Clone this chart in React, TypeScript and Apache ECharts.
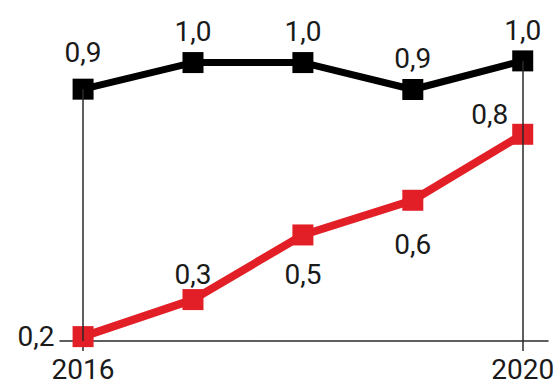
import React, { useEffect, useRef } from "react";
import * as echarts from "echarts";

const years = [2016, 2017, 2018, 2019, 2020];
const blackValues = [0.948, 1.027, 1.027, 0.947, 1.032];
const redValues = [0.213, 0.323, 0.515, 0.618, 0.814];
const axisYears = [2016, 2020];

const yMin = 0.2;
const yMax = 1.1;

// label layout (style only)
const blackLabelLayout = [
  { position: "top", distance: 12 },
  { position: "top", distance: 7 },
  { position: "top", distance: 7 },
  { position: "top", distance: 7 },
  { position: "top", distance: 6 },
];
const redLabelLayout = [
  { position: "left", distance: 18 },
  { position: "top", distance: 1 },
  { position: "bottom", distance: 15 },
  { position: "bottom", distance: 20 },
  { position: "left", distance: 4, offset: [0, -20] },
];

const fmt = (v: number) => v.toFixed(1).replace(".", ",");
const FONT = "Roboto";

export default function App() {
  const ref = useRef<HTMLDivElement>(null);
  useEffect(() => {
    if (!ref.current) return;
    const chart = echarts.init(ref.current, null, { renderer: "svg" });
    const labelBase = {
      show: true,
      fontFamily: FONT,
      fontSize: 28,
      color: "#1a1a1a",
      formatter: (p: any) => fmt(p.value[1]),
    };
    chart.setOption({
      animation: false,
      backgroundColor: "#ffffff",
      grid: { left: 60, right: 10, top: 38, bottom: 44 },
      xAxis: {
        type: "value",
        min: 2015.79,
        max: 2020.23,
        axisLine: { show: true, lineStyle: { color: "#2a2a2a", width: 1.5 } },
        axisTick: {
          show: true,
          customValues: axisYears,
          length: 10,
          lineStyle: { color: "#2a2a2a", width: 1.5 },
        },
        axisLabel: {
          show: true,
          customValues: axisYears,
          formatter: (v: number) => String(v),
          fontFamily: FONT,
          fontSize: 28,
          color: "#1a1a1a",
          margin: 14,
        },
        splitLine: { show: false },
      },
      yAxis: {
        type: "value",
        min: yMin,
        max: yMax,
        show: false,
        splitLine: { show: false },
      },
      series: [
        {
          type: "line",
          z: 1,
          data: [],
          markLine: {
            silent: true,
            symbol: "none",
            label: { show: false },
            lineStyle: { color: "#2a2a2a", width: 1.5, type: "solid" },
            data: [
              [
                { coord: [years[0], blackValues[0]] },
                { coord: [years[0], yMin] },
              ],
              [
                { coord: [years[4], blackValues[4]] },
                { coord: [years[4], yMin] },
              ],
            ],
          },
        },
        {
          type: "line",
          z: 3,
          data: years.map((y, i) => ({
            value: [y, blackValues[i]],
            label: { ...blackLabelLayout[i] },
          })),
          symbol: "rect",
          symbolSize: 21,
          itemStyle: { color: "#000000" },
          lineStyle: { color: "#000000", width: 7 },
          label: { ...labelBase },
        },
        {
          type: "line",
          z: 4,
          data: years.map((y, i) => ({
            value: [y, redValues[i]],
            label: { ...redLabelLayout[i] },
          })),
          symbol: "rect",
          symbolSize: 21,
          itemStyle: { color: "#e21f26" },
          lineStyle: { color: "#e21f26", width: 8 },
          label: { ...labelBase },
        },
      ],
    });
    return () => chart.dispose();
  }, []);
  return <div ref={ref} style={{ width: 558, height: 385, position: "absolute", left: 0, top: 0 }} />;
}
